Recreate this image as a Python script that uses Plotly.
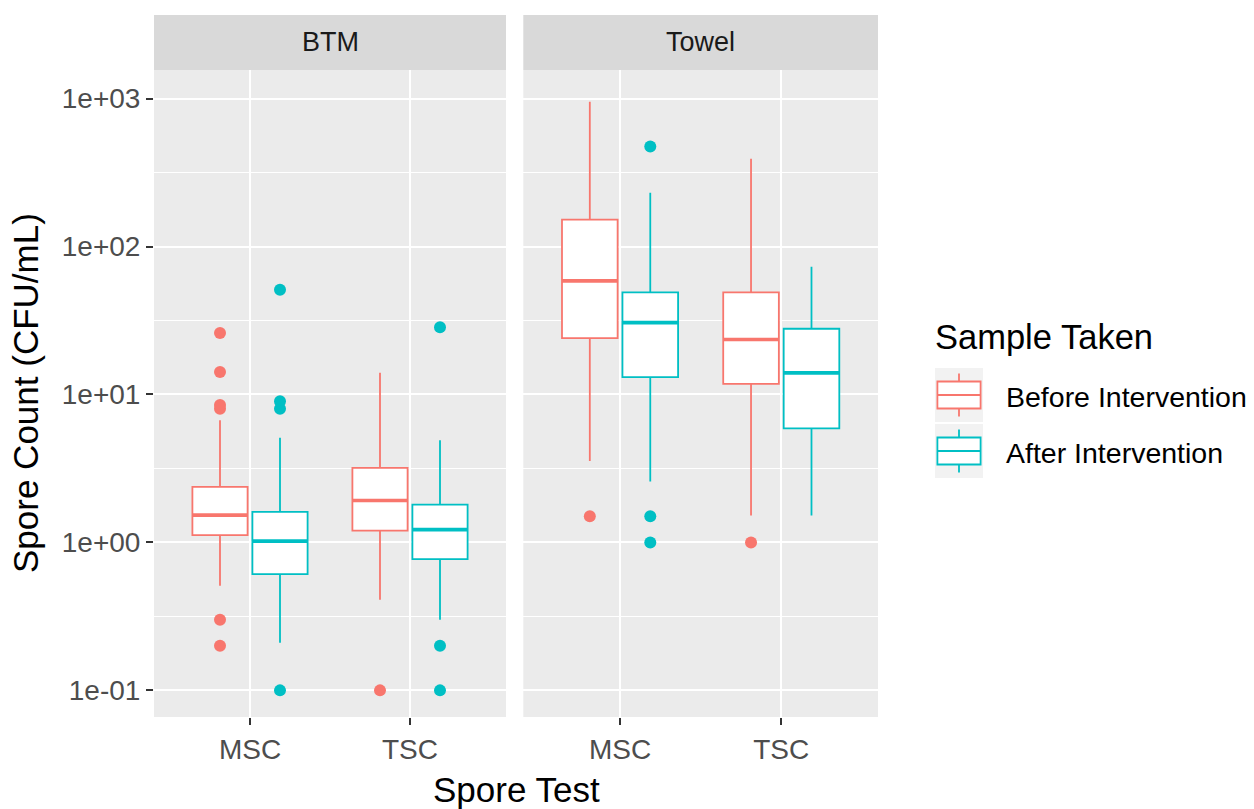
import plotly.graph_objects as go

# ---------------- data ----------------
facets = ["BTM", "Towel"]
tests = ["MSC", "TSC"]
groups = ["Before Intervention", "After Intervention"]
group_colors = ["#F8766D", "#00BFC4"]
y_tickvals = [0.1, 1, 10, 100, 1000]
y_ticktext = ["1e-01", "1e+00", "1e+01", "1e+02", "1e+03"]

# BTM facet (values per test: [MSC, TSC])
btm_before_lower = [0.51, 0.41]
btm_before_q1 = [1.12, 1.20]
btm_before_median = [1.53, 1.92]
btm_before_q3 = [2.37, 3.19]
btm_before_upper = [6.7, 14.0]
btm_before_outliers = [[0.2, 0.3, 8.0, 8.5, 14.2, 26.0], [0.1]]

btm_after_lower = [0.21, 0.30]
btm_after_q1 = [0.61, 0.77]
btm_after_median = [1.02, 1.22]
btm_after_q3 = [1.61, 1.80]
btm_after_upper = [5.1, 4.9]
btm_after_outliers = [[0.1, 8.0, 9.0, 51.0], [0.1, 0.2, 28.5]]

# Towel facet
towel_before_lower = [3.55, 1.52]
towel_before_q1 = [24.0, 11.8]
towel_before_median = [58.6, 23.5]
towel_before_q3 = [152.0, 49.0]
towel_before_upper = [950.0, 392.0]
towel_before_outliers = [[1.5], [1.0]]

towel_after_lower = [2.58, 1.52]
towel_after_q1 = [13.1, 5.9]
towel_after_median = [30.6, 14.0]
towel_after_q3 = [49.0, 27.8]
towel_after_upper = [231.0, 73.0]
towel_after_outliers = [[1.0, 1.5, 474.0], []]

stats = {
    (0, 0): (btm_before_lower, btm_before_q1, btm_before_median, btm_before_q3, btm_before_upper, btm_before_outliers),
    (0, 1): (btm_after_lower, btm_after_q1, btm_after_median, btm_after_q3, btm_after_upper, btm_after_outliers),
    (1, 0): (towel_before_lower, towel_before_q1, towel_before_median, towel_before_q3, towel_before_upper, towel_before_outliers),
    (1, 1): (towel_after_lower, towel_after_q1, towel_after_median, towel_after_q3, towel_after_upper, towel_after_outliers),
}

# ---------------- layout geometry ----------------
W, H = 1254, 809
ML, MR, MT, MB = 154, 376, 15, 92
PW = W - ML - MR
PH = H - MT - MB
PANEL_TOP = 70


def px_x(p):
    return (p - ML) / PW


def px_y(p):
    return (H - MB - p) / PH


ydom = [0, px_y(PANEL_TOP)]
x1dom = [0, px_x(506)]
x2dom = [px_x(523.3), 1]

dodge = 0.1875
box_w = 0.345
offsets = [-dodge, dodge]
xpos = [i + 1 for i in range(len(tests))]

FONT = "Arial, Liberation Sans, sans-serif"
fig = go.Figure()

for fi in range(len(facets)):
    xa = "x" if fi == 0 else "x2"
    ya = "y" if fi == 0 else "y2"
    for gi in range(len(groups)):
        lo, q1, med, q3, hi, outs = stats[(fi, gi)]
        col = group_colors[gi]
        pos = [x + offsets[gi] for x in xpos]
        fig.add_trace(go.Box(
            x=pos, lowerfence=lo, q1=q1, median=med, q3=q3, upperfence=hi,
            width=box_w, whiskerwidth=0, fillcolor="white",
            line=dict(color=col, width=1.8), boxpoints=False,
            xaxis=xa, yaxis=ya, showlegend=False, hoverinfo="skip",
            name=groups[gi]))
        mx, my = [], []
        for p, m in zip(pos, med):
            mx += [p - box_w / 2, p + box_w / 2, None]
            my += [m, m, None]
        fig.add_trace(go.Scatter(x=mx, y=my, mode="lines",
                                 line=dict(color=col, width=3.6),
                                 xaxis=xa, yaxis=ya, showlegend=False, hoverinfo="skip"))
        ox, oy = [], []
        for p, o in zip(pos, outs):
            ox += [p] * len(o)
            oy += list(o)
        fig.add_trace(go.Scatter(x=ox, y=oy, mode="markers",
                                 marker=dict(color=col, size=12, line=dict(width=0)),
                                 xaxis=xa, yaxis=ya, showlegend=False, hoverinfo="skip"))

minor_vals = [10 ** (k + 0.5) for k in range(-2, 4)]

xcommon = dict(range=[0.4, 2.6], tickmode="array", tickvals=xpos, ticktext=tests,
               showgrid=True, gridcolor="white", gridwidth=2.2, zeroline=False,
               showline=False, ticks="outside", ticklen=7, tickwidth=2, tickcolor="#333333",
               tickfont=dict(size=28, color="#4D4D4D", family=FONT), fixedrange=True)
ycommon = dict(type="log", range=[-1.180, 3.193], domain=ydom, tickmode="array",
               tickvals=y_tickvals, ticktext=y_ticktext, showgrid=True, gridcolor="white",
               gridwidth=2.2, zeroline=False, showline=False,
               minor=dict(tickmode="array", tickvals=minor_vals, showgrid=True,
                          gridcolor="white", gridwidth=1.1, ticks=""),
               tickfont=dict(size=28, color="#4D4D4D", family=FONT), fixedrange=True)

fig.update_layout(
    width=W, height=H,
    margin=dict(l=ML, r=MR, t=MT, b=MB, pad=0),
    paper_bgcolor="white", plot_bgcolor="#EBEBEB",
    font=dict(family=FONT, color="black"),
    showlegend=False,
    xaxis=dict(domain=x1dom, anchor="y", **xcommon),
    xaxis2=dict(domain=x2dom, anchor="y2", **xcommon),
    yaxis=dict(anchor="x", ticks="outside", ticklen=7, tickwidth=2, tickcolor="#333333",
               **ycommon),
    yaxis2=dict(anchor="x2", matches="y", showticklabels=False, ticks="", **ycommon),
)

shapes = []
annotations = []
# facet strips
for fi, xr in enumerate(["x domain", "x2 domain"]):
    shapes.append(dict(type="rect", xref=xr, yref="paper", x0=0, x1=1, y0=ydom[1], y1=1,
                       fillcolor="#D9D9D9", line=dict(width=0), layer="below"))
    annotations.append(dict(xref=xr, yref="paper", x=0.5, y=(ydom[1] + 1) / 2,
                            text=facets[fi], showarrow=False, xanchor="center", yanchor="middle",
                            font=dict(size=27, color="#1A1A1A", family=FONT)))

# axis titles
annotations.append(dict(xref="paper", yref="paper", x=px_x(516), y=px_y(789),
                        text="Spore Test", showarrow=False, xanchor="center", yanchor="middle",
                        font=dict(size=35, color="black", family=FONT)))
annotations.append(dict(xref="paper", yref="paper", x=px_x(25), y=px_y(393),
                        text="Spore Count (CFU/mL)", showarrow=False, textangle=-90,
                        xanchor="center", yanchor="middle",
                        font=dict(size=35, color="black", family=FONT)))

# legend (drawn manually to mimic ggplot keys)
annotations.append(dict(xref="paper", yref="paper", x=px_x(933), y=px_y(337),
                        text="Sample Taken", showarrow=False, xanchor="left", yanchor="middle",
                        font=dict(size=34.5, color="black", family=FONT)))
key_centers = [395, 451]
kx0, kx1 = 935, 983
kh = 54
for gi, cy in enumerate(key_centers):
    col = group_colors[gi]
    top, bot = cy - kh / 2, cy + kh / 2
    shapes.append(dict(type="rect", xref="paper", yref="paper",
                       x0=px_x(kx0), x1=px_x(kx1), y0=px_y(bot), y1=px_y(top),
                       fillcolor="#F2F2F2", line=dict(width=0)))
    bx0, bx1 = kx0 + 0.05 * (kx1 - kx0), kx1 - 0.05 * (kx1 - kx0)
    btop, bbot = top + 0.25 * kh, top + 0.75 * kh
    xc = (kx0 + kx1) / 2
    shapes.append(dict(type="line", xref="paper", yref="paper",
                       x0=px_x(xc), x1=px_x(xc), y0=px_y(top + 0.1 * kh), y1=px_y(btop),
                       line=dict(color=col, width=1.8)))
    shapes.append(dict(type="line", xref="paper", yref="paper",
                       x0=px_x(xc), x1=px_x(xc), y0=px_y(bbot), y1=px_y(top + 0.9 * kh),
                       line=dict(color=col, width=1.8)))
    shapes.append(dict(type="rect", xref="paper", yref="paper",
                       x0=px_x(bx0), x1=px_x(bx1), y0=px_y(bbot), y1=px_y(btop),
                       fillcolor="white", line=dict(color=col, width=1.8)))
    shapes.append(dict(type="line", xref="paper", yref="paper",
                       x0=px_x(bx0), x1=px_x(bx1), y0=px_y(cy), y1=px_y(cy),
                       line=dict(color=col, width=1.8)))
    annotations.append(dict(xref="paper", yref="paper", x=px_x(1004), y=px_y(cy + 2),
                            text=groups[gi], showarrow=False, xanchor="left", yanchor="middle",
                            font=dict(size=28.5, color="black", family=FONT)))

fig.update_layout(shapes=shapes, annotations=annotations)
fig.write_html("out.html")
